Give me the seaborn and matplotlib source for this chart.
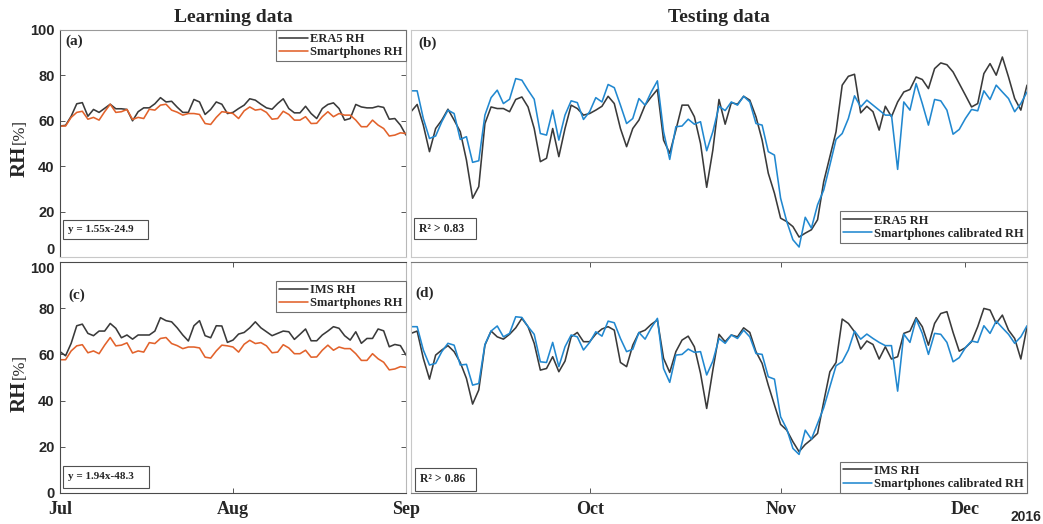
import numpy as np
import pandas as pd
import matplotlib
matplotlib.use("Agg")
import matplotlib.pyplot as plt
import seaborn as sns
from matplotlib.patches import Rectangle

# ---------------- data ----------------
learn_dates = pd.date_range("2016-07-01", "2016-09-01", freq="D")
test_dates = pd.date_range("2016-09-02", "2016-12-11", freq="D")

era5_learn = [57.7, 58.0, 62.0, 67.5, 68.0, 62.0, 65.0, 63.7, 65.5, 67.3,
              65.3, 65.3, 65.0, 60.0, 64.0, 65.7, 65.7, 67.5, 70.2, 68.3,
              68.6, 66.0, 63.7, 63.7, 69.4, 68.3, 62.8, 65.0, 68.3, 67.3,
              63.2, 63.7, 65.4, 66.9, 69.7, 69.1, 67.3, 65.7, 65.1, 67.6,
              69.7, 65.4, 63.5, 63.5, 66.4, 63.2, 61.0, 65.4, 67.2, 67.9,
              65.4, 60.3, 61.0, 67.2, 66.1, 65.7, 65.7, 66.4, 65.9, 60.7,
              61.0, 58.1, 53.7]
smart_learn = [57.7, 57.7, 61.5, 63.7, 64.2, 60.7, 61.5, 60.3, 64.0, 67.3,
               63.7, 64.0, 65.0, 60.6, 61.5, 61.0, 65.1, 64.7, 66.9, 67.3,
               64.7, 63.8, 62.5, 63.2, 63.2, 62.8, 58.8, 58.4, 61.5, 64.0,
               63.7, 63.2, 61.0, 64.4, 66.1, 64.7, 65.1, 63.7, 60.7, 61.0,
               64.2, 62.8, 60.3, 60.3, 61.8, 58.8, 58.9, 61.8, 64.0, 61.8,
               63.2, 62.5, 62.5, 60.3, 57.4, 57.4, 60.3, 58.1, 56.6, 53.3,
               53.7, 54.7, 54.4]
ims_learn = [61.2, 59.4, 64.8, 72.4, 73.1, 69.1, 68.1, 70.1, 70.1, 73.4,
             71.3, 67.2, 68.4, 66.6, 68.4, 68.4, 68.4, 70.1, 75.9, 74.6,
             74.1, 71.5, 68.4, 65.8, 72.4, 74.6, 68.1, 67.2, 72.4, 72.3,
             65.2, 66.2, 68.8, 69.5, 71.5, 74.1, 71.5, 69.8, 68.1, 69.1,
             70.1, 69.8, 66.5, 68.7, 71.0, 65.9, 65.9, 68.4, 70.1, 72.0,
             71.3, 68.1, 66.2, 69.8, 64.8, 66.9, 66.9, 71.0, 70.2, 63.3,
             64.3, 63.8, 59.7]

era5_test = [64.0, 67.2, 58.1, 46.4, 56.6, 60.3, 65.1, 60.3, 55.2, 42.7,
             25.9, 31.0, 58.8, 66.1, 65.4, 65.4, 64.0, 69.4, 70.5, 66.1,
             56.6, 42.0, 43.5, 56.6, 44.2, 56.6, 66.9, 65.4, 62.5, 63.2,
             64.7, 66.4, 70.8, 67.6, 56.6, 48.6, 56.6, 60.3, 66.9, 70.5,
             73.8, 51.5, 45.7, 55.9, 66.9, 66.9, 61.8, 50.0, 30.7, 47.1,
             69.4, 58.5, 68.0, 67.3, 70.8, 69.1, 61.8, 51.5, 36.9, 28.1,
             17.1, 15.6, 13.4, 8.8, 10.5, 12.0, 16.4, 33.2, 44.2, 55.2,
             75.7, 79.6, 80.5, 63.5, 66.4, 64.0, 55.9, 66.4, 61.8, 68.3,
             72.7, 73.8, 79.3, 78.2, 74.2, 83.0, 85.5, 84.7, 81.5, 76.4,
             71.3, 66.1, 67.6, 80.8, 85.2, 80.1, 88.1, 79.3, 69.8, 64.7,
             75.7]
smart_cal_era5 = [73.2, 73.2, 61.0, 52.2, 53.3, 59.6, 64.7, 63.2, 51.8, 53.0,
                  41.7, 42.4, 62.5, 70.2, 73.5, 67.6, 69.5, 78.6, 77.9, 73.5,
                  69.5, 54.4, 53.7, 64.7, 51.5, 62.5, 68.8, 68.0, 60.6, 64.0,
                  70.2, 68.3, 76.0, 74.6, 66.9, 58.8, 61.0, 69.8, 66.9, 72.7,
                  77.6, 55.2, 43.0, 57.4, 57.7, 60.7, 58.5, 59.6, 46.8, 55.2,
                  66.4, 64.5, 68.3, 66.9, 70.8, 68.3, 58.8, 58.1, 46.4, 44.9,
                  25.9, 15.6, 7.6, 4.4, 17.5, 12.7, 23.0, 29.5, 40.5, 51.8,
                  54.4, 61.0, 71.0, 66.1, 69.1, 66.9, 64.7, 62.5, 62.5, 38.6,
                  68.3, 64.7, 76.4, 67.6, 58.1, 69.4, 68.8, 64.7, 54.1, 56.2,
                  61.0, 65.0, 64.4, 73.2, 69.4, 75.7, 72.7, 69.8, 64.0, 67.6,
                  72.7]
ims_test = [69.1, 70.1, 58.3, 49.3, 59.7, 61.9, 63.8, 61.2, 56.5, 49.6,
            38.5, 44.6, 64.0, 70.1, 67.6, 66.6, 68.7, 71.5, 75.6, 72.0,
            64.8, 53.2, 53.9, 59.0, 52.5, 57.1, 67.6, 69.5, 65.5, 65.5,
            68.8, 71.0, 72.0, 70.5, 56.5, 54.7, 64.0, 69.4, 70.5, 73.0,
            74.9, 58.3, 52.2, 61.2, 66.2, 67.9, 63.3, 51.8, 36.6, 53.2,
            68.7, 65.5, 68.4, 67.6, 71.5, 69.5, 61.2, 56.1, 46.7, 38.1,
            29.7, 27.2, 22.2, 17.9, 21.0, 23.2, 25.8, 39.5, 52.5, 56.5,
            75.3, 73.4, 69.8, 62.3, 65.8, 64.3, 58.0, 63.3, 58.0, 59.0,
            69.1, 70.1, 75.9, 72.0, 64.0, 73.4, 77.7, 78.5, 69.5, 61.4,
            62.9, 65.5, 72.0, 79.9, 79.2, 73.4, 77.0, 70.5, 66.9, 58.0,
            72.0]
smart_cal_ims = [72.0, 72.0, 61.9, 55.4, 56.1, 61.2, 64.8, 64.0, 55.4, 55.7,
                 46.7, 47.4, 64.3, 70.1, 72.3, 67.6, 69.1, 76.3, 76.0, 72.0,
                 68.7, 56.8, 56.5, 65.2, 54.7, 63.3, 68.4, 67.6, 61.9, 65.2,
                 69.8, 67.9, 74.4, 73.7, 66.9, 61.2, 62.2, 69.5, 66.6, 71.5,
                 75.6, 53.9, 47.9, 59.7, 60.0, 62.3, 60.9, 61.2, 51.1, 57.1,
                 66.9, 64.8, 68.4, 66.9, 70.5, 67.6, 60.4, 60.0, 50.3, 49.3,
                 33.0, 27.7, 19.3, 16.7, 27.2, 23.3, 30.1, 36.9, 46.0, 55.1,
                 56.8, 61.9, 70.1, 66.6, 68.8, 66.9, 65.2, 63.8, 63.8, 44.1,
                 68.8, 65.2, 75.3, 69.1, 60.0, 69.1, 68.7, 65.2, 56.8, 58.6,
                 62.9, 65.8, 65.2, 72.4, 69.1, 74.4, 71.5, 68.7, 64.8, 67.6,
                 72.4]

y_ticks = [0, 20, 40, 60, 80, 100]
learn_tick_dates = ["2016-07-01", "2016-08-01", "2016-09-01"]
learn_tick_labels = ["Jul", "Aug", "Sep"]
test_tick_dates = ["2016-10-01", "2016-11-01", "2016-12-01"]
test_tick_labels = ["Oct", "Nov", "Dec"]

df_learn = pd.DataFrame({"date": learn_dates, "ERA5 RH": era5_learn,
                         "Smartphones RH": smart_learn, "IMS RH": ims_learn})
df_test = pd.DataFrame({"date": test_dates, "ERA5 RH": era5_test,
                        "cal_era5": smart_cal_era5, "IMS RH": ims_test,
                        "cal_ims": smart_cal_ims})

# ---------------- style ----------------
sns.set_theme(style="white")
plt.rcParams["font.family"] = ["Liberation Serif", "DejaVu Serif"]
plt.rcParams["axes.facecolor"] = "white"

BLACK = "#3a3a3a"
ORANGE = "#E2622B"
BLUE = "#2188D0"
LW = 1.15

W, H = 1043, 524
fig = plt.figure(figsize=(W / 100, H / 100), dpi=100)
fig.patch.set_facecolor("white")


def rect(l, t, r, b):
    return [l / W, 1 - b / H, (r - l) / W, (b - t) / H]


ax_a = fig.add_axes(rect(60, 30, 406, 257))
ax_b = fig.add_axes(rect(411, 30, 1027, 257))
ax_c = fig.add_axes(rect(60, 262, 406, 493))
ax_d = fig.add_axes(rect(411, 262, 1027, 493))

sns.lineplot(data=df_learn, x="date", y="ERA5 RH", ax=ax_a, color=BLACK, lw=LW, label="ERA5 RH")
sns.lineplot(data=df_learn, x="date", y="Smartphones RH", ax=ax_a, color=ORANGE, lw=LW, label="Smartphones RH")
sns.lineplot(data=df_learn, x="date", y="IMS RH", ax=ax_c, color=BLACK, lw=LW, label="IMS RH")
sns.lineplot(data=df_learn, x="date", y="Smartphones RH", ax=ax_c, color=ORANGE, lw=LW, label="Smartphones RH")
sns.lineplot(data=df_test, x="date", y="ERA5 RH", ax=ax_b, color=BLACK, lw=LW, label="ERA5 RH")
sns.lineplot(data=df_test, x="date", y="cal_era5", ax=ax_b, color=BLUE, lw=LW, label="Smartphones calibrated RH")
sns.lineplot(data=df_test, x="date", y="IMS RH", ax=ax_d, color=BLACK, lw=LW, label="IMS RH")
sns.lineplot(data=df_test, x="date", y="cal_ims", ax=ax_d, color=BLUE, lw=LW, label="Smartphones calibrated RH")

for ax in (ax_a, ax_b, ax_c, ax_d):
    ax.set_ylim(0, 100)
    ax.set_xlabel("")
    ax.set_ylabel("")
    ax.grid(False)

for ax in (ax_a, ax_c):
    ax.set_xlim(learn_dates[0], learn_dates[-1])
for ax in (ax_b, ax_d):
    ax.set_xlim(test_dates[0], test_dates[-1])

ytick_font = dict(family="Liberation Sans", weight="bold", size=10.5)
for ax in (ax_a, ax_c):
    ax.set_yticks(y_ticks)
    ax.set_yticklabels([str(v) for v in y_ticks], fontdict=ytick_font, color="#262626")
    ax.tick_params(axis="y", direction="in", left=True, right=True, length=3.5,
                   width=0.7, color="#555555", pad=4)
# the "0" of (a) and the "100" of (c) sit at the junction of the two rows
ax_a.get_yticklabels()[0].set_va("bottom")
ax_c.get_yticklabels()[-1].set_va("top")
for ax in (ax_b, ax_d):
    ax.set_yticks([])

ax_a.set_xticks([])
ax_b.set_xticks([])
xtick_font = dict(family="Liberation Serif", weight="bold", size=13)
ax_c.set_xticks(pd.to_datetime(learn_tick_dates))
ax_c.set_xticklabels(learn_tick_labels, fontdict=xtick_font)
ax_d.set_xticks(pd.to_datetime(test_tick_dates))
ax_d.set_xticklabels(test_tick_labels, fontdict=xtick_font)
for ax in (ax_c, ax_d):
    ax.tick_params(axis="x", direction="in", bottom=True, top=True, length=3.5,
                   width=0.7, color="#555555", pad=6)

# spines
for ax in (ax_a, ax_c):
    for s in ax.spines.values():
        s.set_linewidth(0.8)
        s.set_color("#4a4a4a")
    ax.spines["right"].set_color("#b8b8b8")
ax_a.spines["top"].set_color("#9a9a9a")
ax_a.spines["bottom"].set_color("#c8c8c8")
for ax in (ax_b, ax_d):
    for s in ax.spines.values():
        s.set_linewidth(0.8)
        s.set_color("#c8c8c8")
ax_d.spines["top"].set_color("#7a7a7a")
ax_d.spines["bottom"].set_color("#7a7a7a")

# legends
leg_prop = dict(family="Liberation Serif", weight="bold", size=9)
leg_kw = dict(prop=leg_prop, frameon=True, fancybox=False, borderaxespad=0,
              handlelength=2.3, handletextpad=0.2, borderpad=0.25,
              labelspacing=0.1, framealpha=1)
for ax, loc, anchor in ((ax_a, "upper right", (1, 1)),
                        (ax_c, "upper right", (1, 0.918)),
                        (ax_b, "lower right", (1, 0.062)),
                        (ax_d, "lower right", (1, 0.0))):
    lg = ax.legend(loc=loc, bbox_to_anchor=anchor, **leg_kw)
    lg.get_frame().set_edgecolor("#707070")
    lg.get_frame().set_linewidth(0.8)

# annotation boxes
box_font = dict(family="Liberation Serif", weight="bold")
for ax, (x0, y0, w, h), txt, fs in (
        (ax_a, (0.009, 0.079, 0.246, 0.084), "y = 1.55x-24.9", 8),
        (ax_c, (0.009, 0.022, 0.249, 0.095), "y = 1.94x-48.3", 8),
        (ax_b, (0.005, 0.079, 0.100, 0.093), "R² > 0.83", 8.5),
        (ax_d, (0.006, 0.009, 0.099, 0.100), "R² > 0.86", 8.5)):
    ax.add_patch(Rectangle((x0, y0), w, h, transform=ax.transAxes, fill=True,
                           facecolor="white", edgecolor="#505050", lw=0.8, zorder=5))
    ax.text(x0 + 0.014 * (346 / (ax.get_position().width * W)), y0 + h / 2, txt,
            transform=ax.transAxes, ha="left", va="center", fontsize=fs,
            zorder=6, **box_font)

# panel letters
for letter, x, y in (("(a)", 65, 41), ("(b)", 418, 43), ("(c)", 68, 295), ("(d)", 415, 293)):
    fig.text(x / W, 1 - y / H, letter, ha="left", va="center", fontsize=11,
             family="Liberation Serif", weight="bold")

# titles
fig.text(233 / W, 1 - 18 / H, "Learning data", ha="center", va="center",
         fontsize=14, family="Liberation Serif", weight="bold")
fig.text(719 / W, 1 - 18 / H, "Testing data", ha="center", va="center",
         fontsize=14, family="Liberation Serif", weight="bold")

# y labels
for yc in (145, 380):
    fig.text(20 / W, 1 - (yc + 1) / H, "RH", rotation=90, ha="center", va="top",
             fontsize=15, family="Liberation Serif", weight="bold")
    fig.text(20 / W, 1 - (yc - 1) / H, "[%]", rotation=90, ha="center", va="bottom",
             fontsize=12, family="Liberation Serif")

fig.text(1026 / W, 1 - 517 / H, "2016", ha="center", va="center", fontsize=10,
         family="Liberation Sans", weight="bold")

fig.savefig("out.png", dpi=100, facecolor="white")
